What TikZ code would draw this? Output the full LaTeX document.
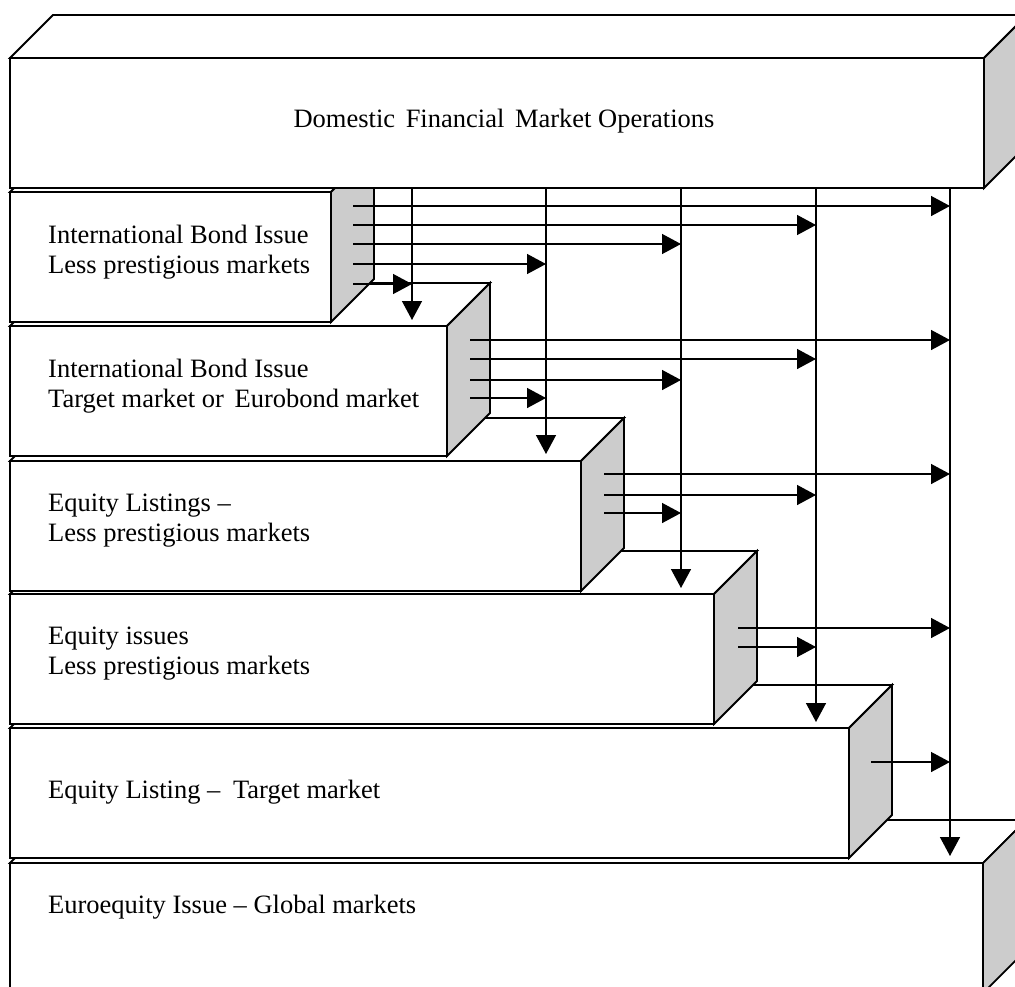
\documentclass[tikz,border=0pt]{standalone}
\usepackage{fontspec}
\setmainfont{Liberation Serif}
\usepackage{tikz}
\usetikzlibrary{arrows.meta}
\definecolor{sidegray}{HTML}{CCCCCC}

\begin{document}
\begin{tikzpicture}[x=1pt, y=-1pt,
    face/.style={draw, fill=white, line width=1.8pt},
    side/.style={draw, fill=sidegray, line width=1.8pt},
    flow/.style={line width=1.4pt, -{Triangle[length=19pt, width=20pt]}},
    boxtext/.style={anchor=north west, align=left, inner sep=0pt, font=\fontsize{26.5}{30}\selectfont}]
    \useasboundingbox (0, 0) rectangle (1015, 986);
    \clip (0, 0) rectangle (1015, 986);
    \foreach \t/\r in {863/983, 728/849, 594/714, 461/581, 326/447, 192/331, 58/984} {
        \draw[face] (10, \t) -- (53, \t - 43) -- (\r + 43, \t - 43) -- (\r, \t) -- cycle;
        \draw[side] (\r, \t) -- (\r + 43, \t - 43) -- (\r + 43, \t + 87) -- (\r, \t + 130) -- cycle;
        \draw[face] (10, \t) rectangle (\r, \t + 130);
    }
    \node[boxtext, anchor=base] (domestic) at (504, 127) {Domestic\hspace{4pt} Financial\hspace{4pt} Market Operations};
    \node[boxtext] (bondless) at (48, 225) {International Bond Issue\\Less prestigious markets};
    \node[boxtext] (bondtarget) at (48, 359) {International Bond Issue\\Target market or\hspace{4pt} Eurobond market};
    \node[boxtext] (listless) at (48, 494) {Equity Listings –\\Less prestigious markets};
    \node[boxtext] (issueless) at (48, 627) {Equity issues\\Less prestigious markets};
    \node[boxtext] (listtarget) at (48, 780) {Equity Listing –\hspace{6pt} Target market};
    \node[boxtext] (euroequity) at (48, 895) {Euroequity Issue – Global markets};
    \foreach \x [count=\i] in {412, 546, 681, 816, 950}
        \coordinate (v\i) at (\x, 188);
    \foreach \i in {1, ..., 5}
        \draw[flow] (v\i) -- ++(0, 134 * \i - 2);
    \foreach \sx/\y/\j in {353/206/5, 353/225/4, 353/244/3, 353/264/2, 353/284/1,
                           470/340/5, 470/359/4, 470/380/3, 470/398/2,
                           604/474/5, 604/495/4, 604/513/3,
                           738/628/5, 738/647/4,
                           871/762/5}
        \draw[flow] (\sx, \y) coordinate (s) -- (s -| v\j);
\end{tikzpicture}
\end{document}
